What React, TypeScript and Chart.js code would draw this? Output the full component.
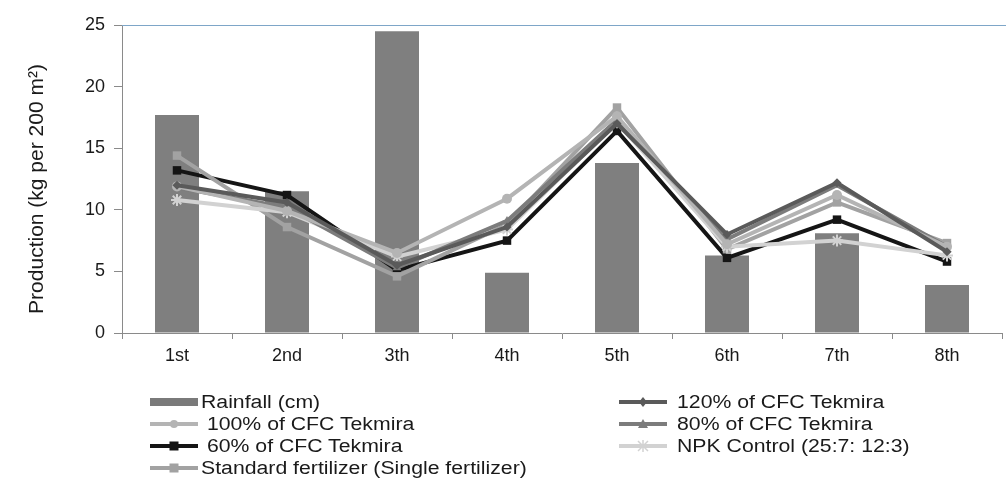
import React, { useEffect, useRef } from "react";
import { Chart, registerables } from "chart.js";

Chart.register(...registerables);

const categories = ["1st", "2nd", "3th", "4th", "5th", "6th", "7th", "8th"];
const rainfall = [17.7, 11.5, 24.5, 4.9, 13.8, 6.3, 8.1, 3.9];
const cfc120 = [12.0, 10.6, 5.5, 8.6, 17.0, 8.0, 12.2, 6.6];
const cfc100 = [11.9, 9.9, 6.5, 10.9, 17.6, 7.2, 11.2, 7.0];
const cfc80 = [11.8, 10.2, 5.3, 9.1, 17.3, 7.6, 12.0, 7.0];
const cfc60 = [13.2, 11.2, 5.1, 7.5, 16.4, 6.1, 9.2, 5.8];
const npk = [10.8, 9.8, 6.2, 8.4, 17.1, 7.0, 7.5, 6.3];
const standard = [14.4, 8.6, 4.6, 8.8, 18.3, 6.8, 10.6, 7.3];
const yTicks = [0, 5, 10, 15, 20, 25];
const yTitle = "Production (kg per 200 m²)";

const FONT = "'Liberation Sans', Arial, sans-serif";

type LegendItem = { label: string; color: string; kind: "bar" | "line"; marker?: string };

const legendLeft: LegendItem[] = [
  { label: "Rainfall (cm)", color: "#7a7a7a", kind: "bar" },
  { label: " 100% of CFC Tekmira", color: "#b4b4b4", kind: "line", marker: "circle" },
  { label: " 60% of CFC Tekmira", color: "#151515", kind: "line", marker: "rect" },
  { label: "Standard fertilizer (Single fertilizer)", color: "#a2a2a2", kind: "line", marker: "rect" },
];
const legendRight: LegendItem[] = [
  { label: "120% of CFC Tekmira", color: "#5a5a5a", kind: "line", marker: "diamond" },
  { label: "80% of CFC Tekmira", color: "#7c7c7c", kind: "line", marker: "triangle" },
  { label: "NPK Control (25:7: 12:3)", color: "#d2d2d2", kind: "line", marker: "star" },
];

function Symbol({ item }: { item: LegendItem }) {
  const w = 48, h = 16, cy = 8, cx = 24;
  let m: React.ReactNode = null;
  if (item.kind === "line") {
    if (item.marker === "circle") m = <circle cx={cx} cy={cy} r={4} fill={item.color} />;
    if (item.marker === "rect") m = <rect x={cx - 4.5} y={cy - 4.5} width={9} height={9} fill={item.color} />;
    if (item.marker === "diamond") m = <polygon points={`${cx},${cy - 5} ${cx + 4},${cy} ${cx},${cy + 5} ${cx - 4},${cy}`} fill={item.color} />;
    if (item.marker === "triangle") m = <polygon points={`${cx},${cy - 5} ${cx + 5},${cy + 4} ${cx - 5},${cy + 4}`} fill={item.color} />;
    if (item.marker === "star")
      m = (
        <g stroke={item.color} strokeWidth={1.5}>
          <line x1={cx - 5} y1={cy - 5} x2={cx + 5} y2={cy + 5} />
          <line x1={cx + 5} y1={cy - 5} x2={cx - 5} y2={cy + 5} />
          <line x1={cx} y1={cy - 6} x2={cx} y2={cy + 6} />
        </g>
      );
  }
  return (
    <svg width={w} height={h} style={{ display: "block" }}>
      {item.kind === "bar" ? (
        <rect x={0} y={cy - 4} width={w} height={8} fill={item.color} />
      ) : (
        <line x1={0} y1={cy} x2={w} y2={cy} stroke={item.color} strokeWidth={4} />
      )}
      {m}
    </svg>
  );
}

function LegendCol({ items, left, textLeft, top }: { items: LegendItem[]; left: number; textLeft: number; top: number }) {
  return (
    <>
      {items.map((it, i) => (
        <div key={i} style={{ position: "absolute", left, top: top + i * 22 - 10, height: 20, display: "flex", alignItems: "center" }}>
          <div style={{ width: textLeft - left, flex: "none" }}>
            <Symbol item={it} />
          </div>
          <span
            style={{
              fontFamily: FONT,
              fontSize: 18,
              color: "#1a1a1a",
              whiteSpace: "pre",
              lineHeight: "20px",
              display: "inline-block",
              transform: "scaleX(1.18)",
              transformOrigin: "left center",
            }}
          >
            {it.label}
          </span>
        </div>
      ))}
    </>
  );
}

const decorPlugin = {
  id: "decor",
  afterDraw(chart: any) {
    const { ctx, chartArea } = chart;
    ctx.save();
    ctx.strokeStyle = "#7ea6c8";
    ctx.lineWidth = 1;
    ctx.beginPath();
    ctx.moveTo(chartArea.left, chartArea.top + 0.5);
    ctx.lineTo(chart.width, chartArea.top + 0.5);
    ctx.stroke();
    // y-axis title
    ctx.translate(37, 189);
    ctx.rotate(-Math.PI / 2);
    ctx.fillStyle = "#1a1a1a";
    ctx.font = `21px ${FONT}`;
    ctx.textAlign = "center";
    ctx.textBaseline = "middle";
    ctx.fillText(yTitle, 0, 0);
    ctx.restore();
  },
};

export default function App() {
  const ref = useRef<HTMLCanvasElement>(null);
  useEffect(() => {
    if (!ref.current) return;
    const lineDs = (label: string, data: number[], color: string, pointStyle: any, radius: number) => ({
      type: "line" as const,
      label,
      data,
      borderColor: color,
      backgroundColor: color,
      borderWidth: 4,
      pointStyle,
      pointRadius: radius,
      pointBorderWidth: pointStyle === "star" ? 2 : 0,
      pointBorderColor: color,
      tension: 0,
      order: 0,
    });
    const chart = new Chart(ref.current, {
      type: "bar",
      data: {
        labels: categories,
        datasets: [
          {
            type: "bar",
            label: "Rainfall (cm)",
            data: rainfall,
            backgroundColor: "#7f7f7f",
            borderWidth: 0,
            categoryPercentage: 1,
            barPercentage: 0.4,
            order: 5,
          } as any,
          lineDs("120% of CFC Tekmira", cfc120, "#5a5a5a", "rectRot", 4.5),
          lineDs("100% of CFC Tekmira", cfc100, "#b4b4b4", "circle", 5),
          lineDs("80% of CFC Tekmira", cfc80, "#7c7c7c", "triangle", 5),
          lineDs("NPK Control (25:7: 12:3)", npk, "#d2d2d2", "star", 6),
          lineDs("Standard fertilizer (Single fertilizer)", standard, "#a2a2a2", "rect", 6),
          lineDs("60% of CFC Tekmira", cfc60, "#151515", "rect", 6),
        ],
      },
      options: {
        animation: false,
        responsive: false,
        layout: { padding: { left: 20, top: 25, right: 0, bottom: 114 } },
        plugins: { legend: { display: false }, tooltip: { enabled: false } },
        scales: {
          x: {
            offset: true,
            grid: { offset: true, drawOnChartArea: false, tickLength: 6, color: "#8a8a8a" },
            border: { color: "#8a8a8a" },
            ticks: { color: "#1a1a1a", font: { family: FONT, size: 18 }, padding: 6 },
            afterFit: (s: any) => {
              s.height = 40;
            },
          },
          y: {
            min: 0,
            max: 25,
            afterBuildTicks: (s: any) => {
              s.ticks = yTicks.map((v) => ({ value: v }));
            },
            grid: { drawOnChartArea: false, tickLength: 8, color: "#8a8a8a" },
            border: { color: "#8a8a8a" },
            ticks: { color: "#1a1a1a", font: { family: FONT, size: 18 }, padding: 9 },
            afterFit: (s: any) => {
              s.width = 102;
            },
          },
        },
      },
      plugins: [decorPlugin],
    });
    return () => chart.destroy();
  }, []);

  return (
    <div style={{ position: "fixed", left: 0, top: 0, width: 1006, height: 487, overflow: "hidden", background: "#fff" }}>
      <canvas ref={ref} width={1010} height={487} style={{ position: "absolute", left: 0, top: 0 }} />
      <LegendCol items={legendLeft} left={150} textLeft={201} top={402} />
      <LegendCol items={legendRight} left={619} textLeft={677} top={402} />
    </div>
  );
}
